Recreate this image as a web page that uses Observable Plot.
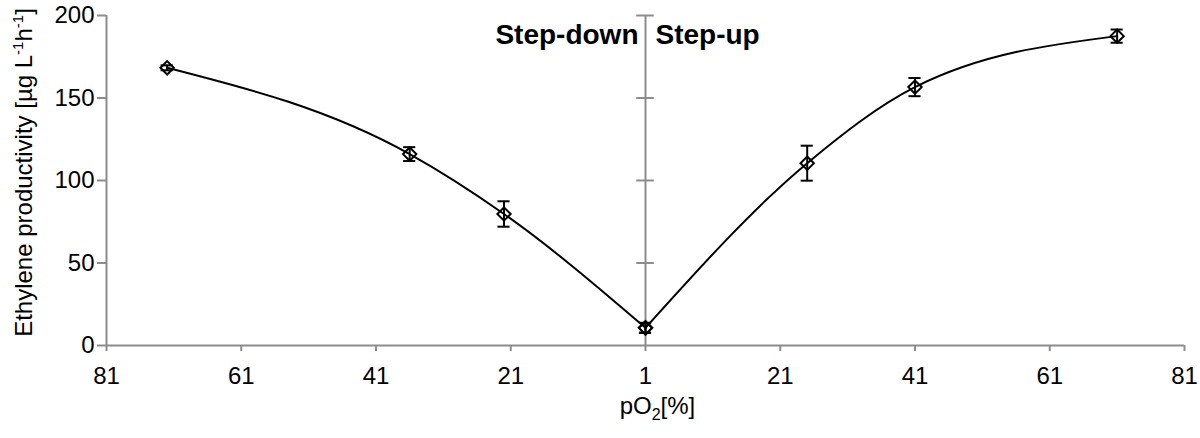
<!DOCTYPE html>
<html>
<head>
<meta charset="utf-8">
<script src="https://cdn.jsdelivr.net/npm/d3@7"></script>
<script src="https://cdn.jsdelivr.net/npm/@observablehq/plot@0.6"></script>
<style>
  html, body { margin: 0; padding: 0; background: #fff; }
  #chart svg { display: block; }
</style>
</head>
<body>
<div id="chart"></div>
<script>
// pO2 [%] levels and ethylene productivity [µg L-1 h-1] (mean ± error)
const stepDownPO2 = [72, 36, 22, 1];
const stepDownValue = [168.3, 116.0, 79.7, 10.7];
const stepDownErr = [1.5, 4.2, 7.7, 3.0];

const stepUpPO2 = [1, 25, 41, 71];
const stepUpValue = [10.7, 110.5, 156.6, 187.5];
const stepUpErr = [3.0, 10.6, 5.5, 4.0];

const xTicks = [-80, -60, -40, -20, 0, 20, 40, 60, 80]; // shown as 81 61 41 21 1 21 41 61 81
const yTicks = [0, 50, 100, 150, 200];
const centerTicks = [50, 100, 150, 200];
const phaseLabels = ["Step-down", "Step-up"];

// Build rows: step-down is drawn to the left of the centre (mirrored axis)
const rows = [
  ...stepDownPO2.map((p, i) => ({phase: phaseLabels[0], u: -(p - 1), v: stepDownValue[i], e: stepDownErr[i]})),
  ...stepUpPO2.map((p, i) => ({phase: phaseLabels[1], u: (p - 1), v: stepUpValue[i], e: stepUpErr[i]}))
];

const gray = "#8c8c8c";
const capHalf = 0.9;   // in x units
const crossHalf = 1.3; // in x units

const chart = Plot.plot({
  width: 1200,
  height: 438,
  marginLeft: 106,
  marginRight: 16,
  marginTop: 15,
  marginBottom: 93,
  style: {fontFamily: "'Liberation Sans', Arial, Helvetica, sans-serif", fontSize: "24px", color: "#000", background: "#fff"},
  x: {domain: [-80, 80], label: null},
  y: {domain: [0, 200], label: null},
  marks: [
    // axes
    Plot.axisX({ticks: xTicks, tickFormat: d => String(Math.abs(d) + 1), tickSize: 6, tickPadding: 15, stroke: gray, strokeWidth: 2, label: null, fontSize: 24}),
    Plot.axisY({ticks: yTicks, tickSize: 9, tickPadding: 3, stroke: gray, strokeWidth: 2, label: null, fontSize: 24}),
    Plot.ruleX([-80], {y1: 0, y2: 200, stroke: gray, strokeWidth: 2}),
    Plot.ruleY([0], {stroke: gray, strokeWidth: 2}),
    // central divider with cross ticks
    Plot.ruleX([0], {y1: 0, y2: 200, stroke: gray, strokeWidth: 2}),
    Plot.ruleY(centerTicks, {x1: -crossHalf, x2: crossHalf, stroke: gray, strokeWidth: 2}),
    // smooth curves
    Plot.line(rows, {x: "u", y: "v", z: "phase", curve: "monotone-x", stroke: "#000", strokeWidth: 2}),
    // error bars
    Plot.ruleX(rows, {x: "u", y1: d => d.v - d.e, y2: d => d.v + d.e, stroke: "#000", strokeWidth: 2}),
    Plot.ruleY(rows, {y: d => d.v - d.e, x1: d => d.u - capHalf, x2: d => d.u + capHalf, stroke: "#000", strokeWidth: 2}),
    Plot.ruleY(rows, {y: d => d.v + d.e, x1: d => d.u - capHalf, x2: d => d.u + capHalf, stroke: "#000", strokeWidth: 2}),
    // markers
    Plot.dot(rows, {x: "u", y: "v", symbol: "diamond2", r: 6, stroke: "#000", strokeWidth: 2, fill: "none"}),
    // phase labels
    Plot.text([phaseLabels[0]], {x: 0, y: 200, dx: -7, dy: 20, text: d => d, textAnchor: "end", fontWeight: "bold", fontSize: 28, fill: "#000"}),
    Plot.text([phaseLabels[1]], {x: 0, y: 200, dx: 10, dy: 20, text: d => d, textAnchor: "start", fontWeight: "bold", fontSize: 28, fill: "#000"}),
    // axis titles
    Plot.text(["pO2[%]"], {frameAnchor: "bottom", textAnchor: "middle", dx: 12, dy: 68, text: d => d, fontSize: 24, fill: "#000", className: "xtitle"}),
    Plot.text(["Ethylene productivity"], {frameAnchor: "left", textAnchor: "middle", dx: -82, dy: -8, rotate: -90, text: d => d, fontSize: 24, fill: "#000", className: "ytitle"})
  ]
});

document.getElementById("chart").appendChild(chart);

// rich text: subscript / superscripts
const svg = d3.select(chart);
svg.selectAll(".xtitle text").each(function() {
  const t = d3.select(this);
  t.text("");
  t.append("tspan").text("pO");
  t.append("tspan").attr("font-size", 16).attr("dy", 6).text("2");
  t.append("tspan").attr("dy", -6).text("[%]");
});
svg.selectAll(".ytitle text").each(function() {
  const t = d3.select(this);
  t.text("");
  t.append("tspan").text("Ethylene productivity [µg L");
  t.append("tspan").attr("font-size", 15).attr("dy", -9).text("-1");
  t.append("tspan").attr("dy", 9).text("h");
  t.append("tspan").attr("font-size", 15).attr("dy", -9).text("-1");
  t.append("tspan").attr("dy", 9).text("]");
});
</script>
</body>
</html>
